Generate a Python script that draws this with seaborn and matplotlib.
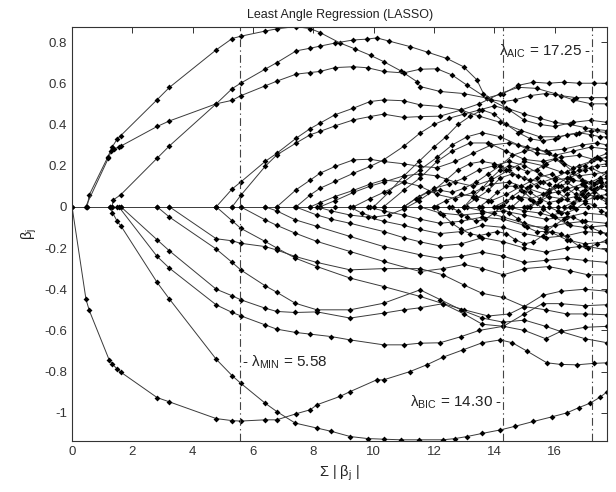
import matplotlib
matplotlib.use("Agg")
import numpy as np
import pandas as pd
import matplotlib.pyplot as plt
import seaborn as sns

# ---- LASSO path: (sum|beta|, beta_j) at the LARS steps ----
b00 = [(0, 0), (0.5, 0), (1.25, 0), (1.34, 0), (1.5, 0), (1.62, 0), (2.82, 0), (3.23, 0), (4.78, 0),
       (5.31, 0), (5.59, 0), (6.4, 0), (6.79, 0), (7.43, 0), (7.9, 0), (8.22, 0), (8.72, 0), (9.33, 0),
       (9.88, 0), (10.33, 0), (10.99, 0), (11.54, 0), (12.1, 0), (12.6, 0), (13.1, 0), (13.6, 0),
       (14.1, 0), (14.6, 0), (15.1, 0), (15.6, 0), (16.1, 0), (16.6, 0), (17.1, 0), (17.75, 0)]
b01 = [(0.5, 0), (0.57, 0.058), (1.18, 0.24), (1.32, 0.288), (1.5, 0.33), (1.61, 0.345), (2.82, 0.52),
       (3.23, 0.58), (4.78, 0.762), (5.31, 0.817), (5.59, 0.828), (6.4, 0.853), (6.79, 0.864), (7.42, 0.875),
       (7.9, 0.865), (8.22, 0.846), (8.89, 0.795), (9.39, 0.766), (9.9, 0.735), (10.33, 0.705), (10.9, 0.66),
       (11.43, 0.608), (11.54, 0.584), (12.2, 0.56), (12.98, 0.55), (13.75, 0.528), (14.4, 0.48), (15.0, 0.45),
       (15.5, 0.43), (16.0, 0.41), (16.5, 0.40), (17.0, 0.385), (17.4, 0.375), (17.75, 0.37)]
b02 = [(0.45, 0), (1.2, 0.235), (1.3, 0.27), (1.38, 0.28), (1.55, 0.29), (1.62, 0.295), (2.82, 0.39),
       (3.23, 0.417), (4.78, 0.5), (5.31, 0.517), (5.59, 0.539), (6.4, 0.587), (6.79, 0.61), (7.43, 0.644),
       (7.9, 0.652), (8.22, 0.657), (8.72, 0.676), (9.33, 0.68), (9.8, 0.675), (10.33, 0.657), (10.99, 0.65),
       (11.54, 0.668), (12.1, 0.67), (12.6, 0.64), (13.1, 0.59), (13.75, 0.528), (14.3, 0.55), (14.8, 0.59),
       (15.3, 0.605), (15.8, 0.6), (16.3, 0.605), (16.8, 0.6), (17.3, 0.6), (17.75, 0.6)]
b03 = [(1.32, 0), (1.37, 0.034), (1.61, 0.058), (2.82, 0.236), (3.23, 0.296), (4.78, 0.5), (5.31, 0.574),
       (5.59, 0.6), (6.4, 0.668), (6.79, 0.7), (7.43, 0.757), (7.9, 0.77), (8.22, 0.78), (8.72, 0.795),
       (9.33, 0.81), (9.77, 0.814), (10.1, 0.82), (10.5, 0.805), (11.2, 0.778), (11.8, 0.75), (12.43, 0.72),
       (12.98, 0.68), (13.42, 0.617), (13.64, 0.55), (13.9, 0.52), (14.3, 0.51), (14.7, 0.52), (15.2, 0.54),
       (15.7, 0.55), (16.2, 0.54), (16.7, 0.53), (17.2, 0.53), (17.75, 0.53)]
b04 = [(4.78, 0), (5.31, 0.087), (5.59, 0.12), (6.4, 0.22), (6.79, 0.26), (7.43, 0.333), (7.9, 0.38),
       (8.22, 0.406), (8.72, 0.447), (9.33, 0.479), (9.88, 0.511), (10.33, 0.519), (10.99, 0.515),
       (11.54, 0.495), (12.2, 0.487), (12.9, 0.47), (13.5, 0.44), (14.2, 0.41), (14.9, 0.37), (15.5, 0.34),
       (16.1, 0.34), (16.7, 0.355), (17.2, 0.37), (17.75, 0.36)]
b05 = [(5.31, 0), (5.59, 0.055), (6.4, 0.196), (6.79, 0.252), (7.43, 0.31), (7.9, 0.35), (8.22, 0.366),
       (8.72, 0.393), (9.33, 0.422), (9.88, 0.438), (10.33, 0.45), (10.99, 0.434), (11.54, 0.438),
       (12.2, 0.44), (12.9, 0.47), (13.5, 0.5), (14.2, 0.55), (14.8, 0.58), (15.4, 0.575), (16.0, 0.55),
       (16.6, 0.52), (17.2, 0.5), (17.75, 0.5)]
b06 = [(6.79, 0), (7.43, 0.083), (7.9, 0.13), (8.22, 0.163), (8.72, 0.196), (9.33, 0.228), (9.88, 0.231),
       (10.33, 0.22), (10.99, 0.209), (11.54, 0.196), (12.1, 0.19), (12.7, 0.22), (13.3, 0.26), (13.9, 0.3),
       (14.5, 0.31), (15.1, 0.29), (15.7, 0.27), (16.3, 0.28), (16.9, 0.3), (17.4, 0.31), (17.75, 0.3)]
b07 = [(7.43, 0), (7.9, 0.058), (8.22, 0.09), (8.72, 0.123), (9.33, 0.163), (9.88, 0.196), (10.33, 0.228),
       (10.99, 0.293), (11.54, 0.358), (12.0, 0.4), (12.5, 0.43), (13.0, 0.45), (13.5, 0.47), (14.0, 0.49),
       (14.5, 0.47), (15.0, 0.42), (15.5, 0.4), (16.0, 0.39), (16.6, 0.41), (17.2, 0.42), (17.75, 0.41)]
b08 = [(8.22, 0), (8.72, 0.03), (9.33, 0.07), (9.88, 0.1), (10.33, 0.12), (10.99, 0.15), (11.54, 0.16),
       (12.1, 0.15), (12.7, 0.12), (13.3, 0.1), (13.9, 0.13), (14.5, 0.18), (15.0, 0.22), (15.6, 0.2),
       (16.2, 0.17), (16.8, 0.15), (17.3, 0.16), (17.75, 0.17)]
b09 = [(9.33, 0), (9.88, 0.04), (10.33, 0.07), (10.99, 0.12), (11.54, 0.18), (12.1, 0.24), (12.6, 0.3),
       (13.1, 0.34), (13.6, 0.36), (14.2, 0.34), (14.8, 0.3), (15.4, 0.26), (16.0, 0.25), (16.6, 0.27),
       (17.2, 0.29), (17.75, 0.28)]
b10 = [(10.33, 0), (10.99, 0.08), (11.54, 0.14), (12.1, 0.22), (12.6, 0.27), (13.2, 0.31), (13.8, 0.31),
       (14.4, 0.27), (15.0, 0.23), (15.6, 0.22), (16.2, 0.24), (16.8, 0.25), (17.3, 0.23), (17.75, 0.24)]
b11 = [(7.9, 0), (8.22, 0.02), (8.72, 0.05), (9.33, 0.08), (9.88, 0.11), (10.33, 0.13), (10.99, 0.12),
       (11.54, 0.1), (12.1, 0.06), (12.7, 0.04), (13.3, 0.07), (13.9, 0.11), (14.5, 0.12), (15.1, 0.09),
       (15.7, 0.06), (16.3, 0.08), (16.9, 0.11), (17.4, 0.12), (17.75, 0.1)]
b12 = [(11.0, 0), (11.5, 0.05), (12.0, 0.09), (12.5, 0.11), (13.0, 0.14), (13.5, 0.18), (14.0, 0.2),
       (14.5, 0.22), (15.0, 0.2), (15.5, 0.16), (16.0, 0.13), (16.5, 0.14), (17.0, 0.18), (17.4, 0.2),
       (17.75, 0.21)]
b13 = [(12.0, 0), (12.4, 0.03), (12.9, 0.06), (13.4, 0.05), (13.9, 0.03), (14.4, 0.06), (14.9, 0.1),
       (15.4, 0.14), (15.9, 0.16), (16.4, 0.12), (16.9, 0.07), (17.3, 0.05), (17.75, 0.06)]
b14 = [(13.0, 0), (13.4, 0.04), (13.8, 0.08), (14.2, 0.14), (14.6, 0.16), (15.0, 0.14), (15.4, 0.1),
       (15.8, 0.08), (16.2, 0.1), (16.6, 0.13), (17.0, 0.12), (17.4, 0.09), (17.75, 0.08)]
b15 = [(14.0, 0), (14.4, 0.03), (14.8, 0.05), (15.2, 0.04), (15.6, 0.06), (16.0, 0.1), (16.4, 0.14),
       (16.8, 0.18), (17.2, 0.19), (17.75, 0.15)]
b16 = [(15.0, 0), (15.4, 0.02), (15.8, 0.05), (16.2, 0.04), (16.6, 0.02), (17.0, 0.03), (17.4, 0.05),
       (17.75, 0.04)]
b17 = [(5.59, 0), (6.4, -0.063), (6.79, -0.09), (7.4, -0.128), (8.12, -0.168), (9.22, -0.217),
       (10.33, -0.265), (11.54, -0.314), (12.3, -0.3), (13.0, -0.28), (13.6, -0.3), (14.3, -0.33),
       (15.0, -0.3), (15.8, -0.29), (16.5, -0.31), (17.1, -0.33), (17.75, -0.33)]
b18 = [(4.78, 0), (5.31, -0.068), (5.59, -0.104), (6.4, -0.168), (6.79, -0.2), (7.4, -0.249),
       (8.12, -0.29), (9.22, -0.346), (10.33, -0.387), (11.54, -0.435), (12.3, -0.47), (13.0, -0.5),
       (13.8, -0.53), (14.5, -0.52), (15.0, -0.484), (15.7, -0.5), (16.4, -0.52), (17.0, -0.52),
       (17.75, -0.524)]
b19 = [(3.23, 0), (4.78, -0.155), (5.31, -0.165), (5.59, -0.177), (6.4, -0.193), (6.79, -0.21),
       (7.4, -0.241), (8.12, -0.27), (9.22, -0.306), (10.33, -0.3), (11.54, -0.3), (12.3, -0.33),
       (13.0, -0.38), (13.6, -0.42), (14.3, -0.44), (15.0, -0.484), (15.6, -0.43), (16.2, -0.41),
       (17.0, -0.4), (17.75, -0.41)]
b20 = [(2.82, 0), (3.23, -0.05), (4.78, -0.205), (5.31, -0.27), (5.59, -0.306), (6.4, -0.383),
       (6.79, -0.415), (7.4, -0.468), (8.12, -0.5), (9.22, -0.5), (10.33, -0.468), (11.54, -0.403),
       (12.2, -0.45), (12.9, -0.5), (13.6, -0.54), (14.3, -0.56), (15.0, -0.55), (15.7, -0.58),
       (16.2, -0.605), (17.0, -0.585), (17.75, -0.58)]
b21 = [(1.62, 0), (2.82, -0.16), (3.23, -0.214), (4.78, -0.4), (5.31, -0.432), (5.59, -0.451),
       (6.4, -0.492), (6.79, -0.508), (7.4, -0.513), (8.12, -0.51), (9.22, -0.54), (10.33, -0.516),
       (11.0, -0.5), (11.54, -0.49), (12.3, -0.47), (13.0, -0.52), (13.6, -0.57), (14.3, -0.58),
       (15.0, -0.6), (15.7, -0.64), (16.2, -0.605), (17.0, -0.64), (17.75, -0.66)]
b22 = [(1.55, 0), (2.82, -0.241), (3.23, -0.298), (4.78, -0.476), (5.31, -0.513), (5.59, -0.529),
       (6.4, -0.573), (6.79, -0.594), (7.42, -0.61), (7.9, -0.618), (8.6, -0.63), (9.22, -0.646),
       (10.33, -0.67), (10.99, -0.67), (11.54, -0.662), (12.2, -0.66), (12.9, -0.63), (13.5, -0.6),
       (14.3, -0.58), (15.0, -0.52), (15.6, -0.47), (16.2, -0.47), (17.0, -0.48), (17.75, -0.475)]
b23 = [(0, 0), (0.46, -0.448), (0.57, -0.503), (1.23, -0.743), (1.34, -0.764), (1.5, -0.788),
       (1.63, -0.804), (2.82, -0.926), (3.23, -0.947), (4.78, -1.028), (5.31, -1.038), (5.59, -1.04),
       (6.4, -1.034), (6.79, -1.034), (7.42, -1.005), (7.9, -0.985), (8.12, -0.961), (8.89, -0.92),
       (9.22, -0.897), (10.1, -0.84), (10.33, -0.84), (11.2, -0.8), (11.76, -0.767), (12.3, -0.73),
       (12.97, -0.694), (13.6, -0.66), (14.2, -0.646), (14.6, -0.66), (15.08, -0.7), (15.74, -0.757),
       (16.2, -0.765), (16.74, -0.767), (17.3, -0.76), (17.75, -0.757)]
b24 = [(1.25, 0), (1.34, -0.028), (1.5, -0.071), (1.63, -0.095), (2.82, -0.367), (3.23, -0.448),
       (4.78, -0.74), (5.31, -0.82), (5.59, -0.856), (6.4, -0.953), (6.79, -0.994), (7.4, -1.05),
       (8.12, -1.074), (8.6, -1.09), (9.22, -1.115), (9.8, -1.125), (10.33, -1.128), (10.9, -1.131),
       (11.5, -1.131), (12.3, -1.131), (12.7, -1.125), (13.1, -1.115), (13.6, -1.1), (14.2, -1.083),
       (14.7, -1.065), (15.3, -1.042), (15.9, -1.02), (16.41, -1.0), (16.8, -0.975), (17.18, -0.953),
       (17.5, -0.925), (17.75, -0.897)]
b25 = [(6.4, 0), (6.79, -0.02), (7.4, -0.063), (8.12, -0.095), (9.22, -0.144), (10.33, -0.193),
       (11.54, -0.233), (12.2, -0.25), (12.9, -0.24), (13.6, -0.22), (14.3, -0.24), (15.0, -0.27),
       (15.7, -0.26), (16.4, -0.25), (17.0, -0.26), (17.75, -0.27)]
b26 = [(7.4, 0), (8.12, -0.04), (8.6, -0.06), (9.22, -0.08), (10.33, -0.12), (11.0, -0.15),
       (11.54, -0.17), (12.2, -0.19), (12.9, -0.18), (13.6, -0.15), (14.3, -0.17), (15.0, -0.2),
       (15.7, -0.22), (16.4, -0.2), (17.0, -0.19), (17.75, -0.21)]
b27 = [(8.12, 0), (8.6, -0.02), (9.22, -0.04), (9.8, -0.05), (10.33, -0.07), (10.99, -0.09),
       (11.54, -0.11), (12.2, -0.13), (12.9, -0.12), (13.6, -0.09), (14.3, -0.1), (15.0, -0.13),
       (15.7, -0.15), (16.4, -0.14), (17.0, -0.12), (17.75, -0.13)]
b28 = [(9.8, 0), (10.33, -0.02), (10.99, -0.04), (11.54, -0.06), (12.2, -0.08), (12.9, -0.07),
       (13.6, -0.05), (14.3, -0.06), (15.0, -0.09), (15.7, -0.1), (16.4, -0.08), (17.0, -0.07),
       (17.75, -0.08)]
b29 = [(11.54, 0), (12.2, -0.03), (12.9, -0.04), (13.6, -0.03), (14.3, -0.02), (15.0, -0.04),
       (15.7, -0.06), (16.4, -0.05), (17.0, -0.03), (17.75, -0.04)]
b30 = [(13.0, 0), (13.6, -0.02), (14.3, -0.05), (15.0, -0.08), (15.7, -0.11), (16.4, -0.16),
       (17.0, -0.18), (17.75, -0.17)]
b31 = [(14.5, 0), (15.0, -0.02), (15.5, -0.03), (16.0, -0.05), (16.5, -0.09), (17.0, -0.1), (17.75, -0.09)]
# late entrants (dense part on the right)
b32 = [(10.0, 0), (10.5, 0.07), (11.0, 0.15), (11.5, 0.22), (12.0, 0.29), (12.4, 0.34), (12.8, 0.4),
       (13.2, 0.44), (13.6, 0.47), (14.0, 0.45), (14.4, 0.4), (14.8, 0.36), (15.2, 0.33), (15.6, 0.32),
       (16.0, 0.33), (16.4, 0.35), (16.8, 0.36), (17.2, 0.35), (17.5, 0.34), (17.75, 0.34)]
b33 = [(9.2, 0), (9.6, -0.03), (10.0, -0.05), (10.5, -0.04), (11.0, -0.01), (11.5, 0.03), (12.0, 0.08),
       (12.4, 0.13), (12.8, 0.18), (13.2, 0.21), (13.6, 0.22), (14.0, 0.21), (14.4, 0.18), (14.8, 0.15),
       (15.2, 0.13), (15.6, 0.12), (16.0, 0.14), (16.4, 0.17), (16.8, 0.2), (17.2, 0.22), (17.5, 0.23),
       (17.75, 0.22)]
b34 = [(12.5, 0), (12.8, -0.02), (13.1, -0.05), (13.4, -0.07), (13.7, -0.06), (14.0, -0.03), (14.3, 0.01),
       (14.6, 0.05), (14.9, 0.08), (15.2, 0.07), (15.5, 0.04), (15.8, 0.02), (16.1, 0.03), (16.4, 0.06),
       (16.7, 0.09), (17.0, 0.1), (17.3, 0.08), (17.55, 0.05), (17.75, 0.03)]
b35 = [(13.5, 0), (13.8, 0.03), (14.1, 0.07), (14.4, 0.1), (14.7, 0.1), (15.0, 0.07), (15.3, 0.03),
       (15.6, -0.01), (15.9, -0.04), (16.2, -0.03), (16.5, 0.0), (16.8, 0.04), (17.1, 0.06), (17.4, 0.05),
       (17.75, 0.02)]
b36 = [(14.2, 0), (14.5, -0.03), (14.8, -0.06), (15.1, -0.1), (15.4, -0.12), (15.7, -0.12), (16.0, -0.09),
       (16.3, -0.06), (16.6, -0.05), (16.9, -0.07), (17.2, -0.1), (17.5, -0.12), (17.75, -0.13)]
b37 = [(15.2, 0), (15.5, 0.03), (15.8, 0.07), (16.1, 0.1), (16.4, 0.09), (16.7, 0.06), (17.0, 0.05),
       (17.3, 0.07), (17.55, 0.1), (17.75, 0.12)]
b38 = [(15.8, 0), (16.1, -0.02), (16.4, -0.03), (16.7, -0.01), (17.0, 0.02), (17.3, 0.01), (17.55, -0.02),
       (17.75, -0.03)]
b39 = [(16.3, 0), (16.6, 0.02), (16.9, 0.06), (17.2, 0.09), (17.5, 0.13), (17.75, 0.14)]
b40 = [(12.0, 0), (12.3, -0.04), (12.6, -0.08), (12.9, -0.11), (13.2, -0.13), (13.5, -0.14), (13.8, -0.13),
       (14.1, -0.12), (14.4, -0.13), (14.7, -0.16), (15.0, -0.18), (15.3, -0.17), (15.6, -0.14),
       (15.9, -0.12), (16.2, -0.13), (16.5, -0.16), (16.8, -0.19), (17.1, -0.2), (17.4, -0.18), (17.75, -0.16)]
b41 = [(11.0, 0), (11.4, 0.04), (11.8, 0.07), (12.2, 0.08), (12.6, 0.07), (13.0, 0.09), (13.4, 0.12),
       (13.8, 0.16), (14.2, 0.2), (14.6, 0.25), (15.0, 0.27), (15.4, 0.28), (15.8, 0.26), (16.2, 0.22),
       (16.6, 0.19), (17.0, 0.2), (17.4, 0.24), (17.75, 0.26)]
b42 = [(13.0, 0), (13.3, 0.05), (13.6, 0.09), (13.9, 0.14), (14.2, 0.18), (14.5, 0.2), (14.8, 0.19),
       (15.1, 0.17), (15.4, 0.18), (15.7, 0.21), (16.0, 0.23), (16.3, 0.21), (16.6, 0.17), (16.9, 0.13),
       (17.2, 0.12), (17.5, 0.14), (17.75, 0.17)]
b43 = [(14.6, 0), (14.9, 0.04), (15.2, 0.1), (15.5, 0.12), (15.8, 0.11), (16.1, 0.07), (16.4, 0.04),
       (16.7, 0.05), (17.0, 0.08), (17.3, 0.11), (17.55, 0.12), (17.75, 0.1)]

# selected models
lambda_vals = [5.58, 14.30, 17.25]

yticks = [-1, -0.8, -0.6, -0.4, -0.2, 0, 0.2, 0.4, 0.6, 0.8]
ytick_labels = ["-1", "-0.8", "-0.6", "-0.4", "-0.2", "0", "0.2", "0.4", "0.6", "0.8"]
xticks = [0, 2, 4, 6, 8, 10, 12, 14, 16]

paths = [b00, b01, b02, b03, b04, b05, b06, b07, b08, b09, b10, b11, b12, b13, b14, b15, b16,
         b17, b18, b19, b20, b21, b22, b23, b24, b25, b26, b27, b28, b29, b30, b31,
         b32, b33, b34, b35, b36, b37, b38, b39, b40, b41, b42, b43]
df = pd.DataFrame([(i, x, y) for i, p in enumerate(paths) for x, y in p], columns=["path", "l1", "beta"])

sns.set_theme(style="white")
plt.rcParams["font.family"] = ["Liberation Sans", "DejaVu Sans"]
plt.rcParams["mathtext.default"] = "regular"
plt.rcParams["xtick.direction"] = "in"
plt.rcParams["ytick.direction"] = "in"

fig, ax = plt.subplots(figsize=(6.16, 4.92), dpi=100)
fig.subplots_adjust(left=0.117, right=0.986, top=0.946, bottom=0.104)

sns.lineplot(data=df, x="l1", y="beta", units="path", estimator=None, sort=False,
             color="#3a3a3a", linewidth=0.7, marker="D", markersize=3.0,
             markeredgewidth=0, markerfacecolor="black", legend=False, ax=ax)

for v in lambda_vals:
    ax.axvline(v, color="#444444", lw=0.8, ls=(0, (7, 3, 1.2, 3)))

ax.text(5.64, -0.757, r"- $\lambda_{MIN}$ = 5.58", fontsize=11, ha="left", va="center", color="#222222")
ax.text(14.26, -0.95, r"$\lambda_{BIC}$ = 14.30 -", fontsize=11, ha="right", va="center", color="#222222")
ax.text(17.21, 0.755, r"$\lambda_{AIC}$ = 17.25 -", fontsize=11, ha="right", va="center", color="#222222")

ax.set_xlim(0, 17.75)
ax.set_ylim(-1.136, 0.875)
ax.set_xticks(xticks)
ax.set_yticks(yticks)
ax.set_yticklabels(ytick_labels)
ax.tick_params(labelsize=9.5, colors="#333333", length=4, width=0.7, top=True, right=True)
for s in ax.spines.values():
    s.set_visible(True)
    s.set_color("#333333")
    s.set_linewidth(0.8)

ax.set_title("Least Angle Regression (LASSO)", fontsize=9, color="#222222", pad=6)
ax.set_xlabel(r"$\Sigma$ | $\beta_j$ |", fontsize=10.5, color="#222222", labelpad=4)
ax.set_ylabel(r"$\beta_j$", fontsize=10.5, color="#222222", labelpad=4)

fig.savefig("out.png", dpi=100)
